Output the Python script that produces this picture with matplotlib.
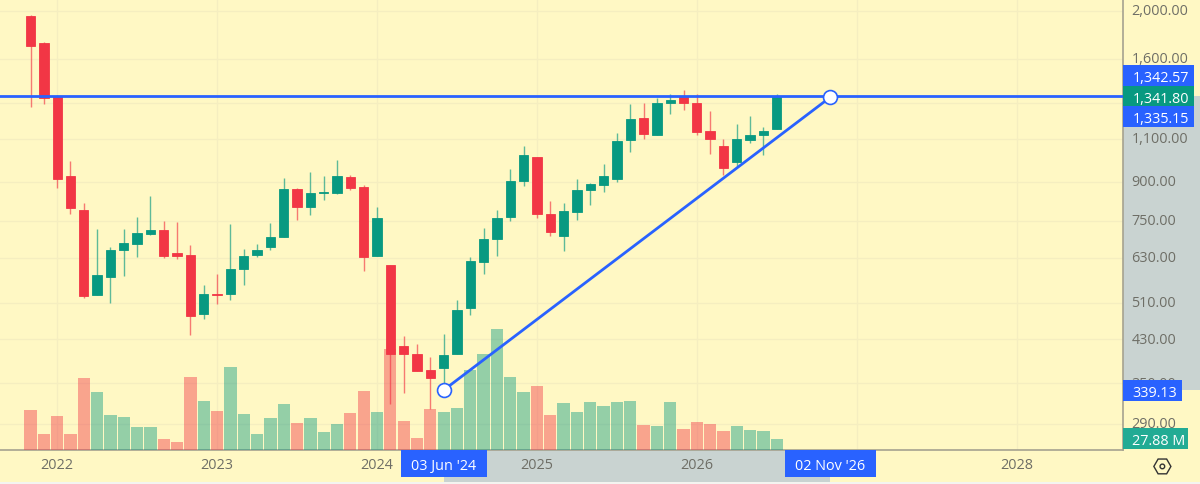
import matplotlib
matplotlib.use('Agg')
import matplotlib.pyplot as plt
from matplotlib.patches import Rectangle, RegularPolygon, Circle
from matplotlib.ticker import NullLocator
from matplotlib.transforms import ScaledTranslation
import numpy as np

opens = [1950, 1720, 1343, 925, 789, 530, 576, 655, 672, 705, 717, 643, 638, 484, 532, 533, 598, 639, 662,
         695, 871, 800, 855, 854, 918, 878, 635, 609, 416, 402, 372, 377, 402, 498, 617, 687, 762, 901,
         1008, 775, 697, 779, 864, 887, 911, 1093, 1210, 1121, 1298, 1337, 1302, 1140, 1065, 988, 1096, 1121, 1149]
highs = [1963, 1728, 1347, 993, 816, 720, 663, 722, 763, 843, 747, 745, 669, 554, 583, 739, 656, 672, 741,
         916, 875, 940, 922, 998, 930, 886, 798, 609, 436, 421, 396, 441, 517, 632, 724, 789, 954, 1062,
         1008, 822, 816, 912, 896, 979, 1131, 1292, 1298, 1329, 1356, 1382, 1356, 1250, 1100, 1181, 1223, 1162, 1358]
lows = [1275, 1292, 875, 773, 522, 530, 510, 579, 633, 702, 630, 626, 438, 472, 508, 516, 555, 632, 655,
        695, 753, 771, 827, 851, 864, 591, 635, 318, 334, 371, 311, 339, 402, 482, 583, 636, 748, 883,
        759, 699, 651, 753, 808, 857, 897, 1033, 1100, 1121, 1234, 1256, 1118, 1025, 930, 964, 1076, 1018, 1149]
closes = [1696, 1332, 913, 797, 527, 580, 654, 676, 707, 718, 636, 636, 479, 532, 530, 598, 636, 654, 696,
          869, 800, 853, 857, 922, 874, 633, 760, 401, 402, 371, 359, 400, 493, 621, 688, 758, 903, 1020,
          773, 712, 784, 866, 888, 922, 1090, 1207, 1123, 1302, 1321, 1298, 1138, 1098, 960, 1098, 1118, 1143, 1341.8]
# millions
volumes = [98, 38, 84, 39, 176, 142, 86, 81, 55, 57, 26, 20.5, 180, 119, 96, 203, 89, 39, 79,
           113.5, 65, 79, 45, 63, 90.5, 145, 94, 249, 71, 30, 101, 94, 104, 195, 236, 296, 178, 141,
           156, 86, 115, 92, 118, 108, 117, 120, 62, 59, 118, 52, 69, 63, 46, 59, 49, 46, 27.88]

price_ticks = [2000, 1600, 1300, 1100, 900, 750, 630, 510, 430, 350, 290]
price_labels = ['2,000.00', '1,600.00', '', '1,100.00', '900.00', '750.00', '630.00', '510.00', '430.00', '350.00', '290.00']
year_ticks = [2, 14, 26, 38, 50, 62, 74]
year_labels = ['2022', '2023', '2024', '2025', '2026', '', '2028']

level_price = 1342.57
last_price = 1341.80
trend_x = [31, 60]
trend_y = [339.13, 1335.15]
trend_dates = ["03 Jun '24", "02 Nov '26"]

BG = '#fff8c4'
GREEN = '#089981'
RED = '#f23645'
BLUE = '#2962ff'
GREY = '#c9d3d1'
AXIS = '#a5a290'
TEXT = '#6e6e66'
W, H = 1196, 483   # layout px of the picture

plt.rcParams['font.family'] = ['Open Sans', 'DejaVu Sans']
plt.rcParams['font.size'] = 10.4

fig = plt.figure(figsize=(12, 4.85), dpi=100, facecolor=BG)
rect = [0, 1 - 449 / H, 1119 / W, 449 / H]

# base layer: log price scale, grid, tick labels
ax = fig.add_axes(rect, facecolor=BG, zorder=1)
ax.set_yscale('log')
ax.set_xlim(-2.29, 81.96)
ax.set_ylim(256.4, 2116)
ax.yaxis.tick_right()
ax.yaxis.set_minor_locator(NullLocator())
ax.set_yticks(price_ticks)
ax.set_yticklabels(price_labels, color=TEXT)
ax.set_xticks(year_ticks)
ax.set_xticklabels(year_labels, color=TEXT)
ax.tick_params(axis='y', length=0, pad=6.3)
ax.tick_params(axis='x', length=0, pad=5.5)
for lab in ax.get_yticklabels():
    lab.set_transform(lab.get_transform() + ScaledTranslation(0, 1.5 / 72, fig.dpi_scale_trans))
ax.grid(True, color='#f5eec0', linewidth=0.9)
ax.set_axisbelow(True)
for s in ['top', 'left']:
    ax.spines[s].set_visible(False)
for s in ['right', 'bottom']:
    ax.spines[s].set_color(AXIS)
    ax.spines[s].set_linewidth(1.2)

# selected drawing range on both axes
ax.add_patch(Rectangle((1.0, trend_y[0]), 77 / 1119, level_price - trend_y[0], transform=ax.get_yaxis_transform(),
                       color=GREY, lw=0, clip_on=False, zorder=0.5))
ax.add_patch(Rectangle((trend_x[0], -32 / 449), trend_x[1] - trend_x[0], 32 / 449, transform=ax.get_xaxis_transform(),
                       color=GREY, lw=0, clip_on=False, zorder=0.5))

x = np.arange(len(opens))
up = np.array(closes) >= np.array(opens)
colors = [GREEN if u else RED for u in up]

ax_vol = fig.add_axes(rect, zorder=2)
ax_vol.patch.set_visible(False)
ax_vol.axis('off')
ax_vol.set_xlim(ax.get_xlim())
ax_vol.set_ylim(0, 1107.7)
ax_vol.bar(x, volumes, width=0.92, color=colors, alpha=0.43, linewidth=0)

ax_top = fig.add_axes(rect, zorder=3)
ax_top.patch.set_visible(False)
ax_top.axis('off')
ax_top.set_yscale('log')
ax_top.set_xlim(ax.get_xlim())
ax_top.set_ylim(ax.get_ylim())
ax_top.vlines(x, lows, highs, colors=colors, linewidth=1.0, alpha=0.65)
body_low = np.minimum(opens, closes)
body_h = np.abs(np.array(closes) - np.array(opens))
ax_top.bar(x, body_h, bottom=body_low, width=0.7, color=colors, edgecolor=colors, linewidth=0.6)

ax_top.axhline(level_price, color=BLUE, linewidth=2.0)
ax_top.plot(trend_x, trend_y, color=BLUE, linewidth=2.0, solid_capstyle='round')
ax_top.plot(trend_x, trend_y, 'o', markersize=10, markerfacecolor='white', markeredgecolor=BLUE,
            markeredgewidth=1.2, linestyle='none', clip_on=False)

# price and date tags on top of the axes
ov = fig.add_axes([0, 0, 1, 1], zorder=4)
ov.patch.set_visible(False)
ov.axis('off')
ov.set_xlim(0, W)
ov.set_ylim(H, 0)


def tag(x0, x1, y0, y1, label, color, tx=None):
    ov.add_patch(Rectangle((x0, y0), x1 - x0, y1 - y0, color=color, lw=0))
    if tx is None:
        ov.text((x0 + x1) / 2, (y0 + y1) / 2, label, color='white', ha='center', va='center_baseline')
    else:
        ov.text(tx, (y0 + y1) / 2, label, color='white', ha='left', va='center_baseline')


tag(1119.5, 1190, 66, 87, f'{level_price:,.2f}', BLUE, 1128.5)
tag(1119.5, 1190, 106.5, 127, f'{trend_y[1]:,.2f}', BLUE, 1128.5)
tag(1119.5, 1190, 87, 106.5, f'{last_price:,.2f}', GREEN, 1128.5)
tag(1119.5, 1178, 379.5, 400, f'{trend_y[0]:,.2f}', BLUE, 1128.5)
tag(1119.5, 1184.5, 427.5, 448.5, f'{volumes[-1]:.2f} M', '#22ab94', 1128.5)
tag(399.5, 485, 449.5, 476.5, trend_dates[0], BLUE)
tag(782, 873, 449.5, 476.5, trend_dates[1], BLUE)

# settings icon
ov.add_patch(RegularPolygon((1158.5, 465.5), 6, radius=8.5, orientation=np.pi / 6, fill=False, edgecolor='#333333', lw=1))
ov.add_patch(Circle((1158.5, 465.5), 2.3, fill=False, edgecolor='#333333', lw=1))
ov.add_patch(Rectangle((0, 481), W, 2, color='#f4f4f0', lw=0))

fig.savefig('out.png', dpi=100, facecolor=BG)
